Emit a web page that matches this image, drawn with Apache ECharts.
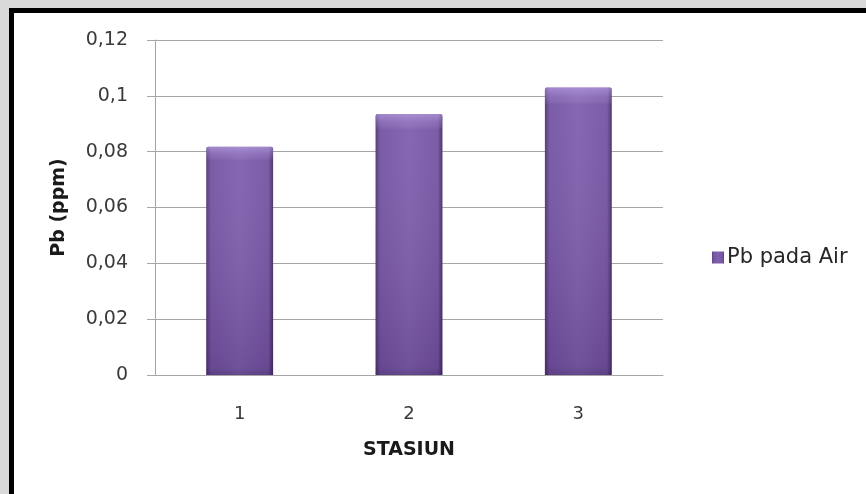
<!DOCTYPE html>
<html>
<head>
<meta charset="utf-8">
<script src="https://cdn.jsdelivr.net/npm/echarts@6/dist/echarts.min.js"></script>
<style>
html,body{margin:0;padding:0;background:#d9d9d9;}
#chart{width:866px;height:494px;}
</style>
</head>
<body>
<div id="chart"></div>
<script>
const categories = ['1', '2', '3'];
const seriesName = 'Pb pada Air';
const values = [0.0818, 0.0935, 0.103];
const yTicks = [0, 0.02, 0.04, 0.06, 0.08, 0.1, 0.12];
const xAxisTitle = 'STASIUN';
const yAxisTitle = 'Pb (ppm)';

const FONT = 'DejaVu Sans';
const chart = echarts.init(document.getElementById('chart'), null, {renderer: 'canvas'});

const barGradient = new echarts.graphic.LinearGradient(0, 0, 1, 0, [
  {offset: 0, color: '#4f3573'},
  {offset: 0.07, color: '#7453a2'},
  {offset: 0.5, color: '#7f5fae'},
  {offset: 0.93, color: '#7453a2'},
  {offset: 1, color: '#452e66'}
]);
const shadeGradient = new echarts.graphic.LinearGradient(0, 0, 0, 1, [
  {offset: 0, color: 'rgba(200,180,240,0.55)'},
  {offset: 0.035, color: 'rgba(200,180,240,0.25)'},
  {offset: 0.06, color: 'rgba(255,255,255,0.05)'},
  {offset: 0.97, color: 'rgba(20,0,40,0.14)'},
  {offset: 1, color: 'rgba(20,0,40,0.25)'}
]);

chart.setOption({
  backgroundColor: '#d9d9d9',
  animation: false,
  graphic: [{
    type: 'rect',
    z: -10,
    shape: {x: 11.5, y: 10.5, width: 900, height: 600},
    style: {fill: '#ffffff', stroke: '#000000', lineWidth: 5}
  }],
  grid: {left: 155, right: 203, top: 40, bottom: 119},
  legend: {
    left: 707, top: 242,
    itemWidth: 12, itemHeight: 12, itemGap: 10,
    icon: 'rect',
    textStyle: {fontFamily: FONT, fontSize: 21, color: '#262626', padding: [0, 0, 0, -2]},
    data: [seriesName]
  },
  xAxis: {
    type: 'category',
    data: categories,
    name: xAxisTitle,
    nameLocation: 'middle',
    nameGap: 66,
    nameTextStyle: {fontFamily: FONT, fontSize: 19, fontWeight: 'bold', color: '#1a1a1a'},
    axisLine: {lineStyle: {color: '#a6a6a6', width: 1}},
    axisTick: {show: false},
    axisLabel: {fontFamily: FONT, fontSize: 18, color: '#3a3a3a', margin: 30}
  },
  yAxis: {
    type: 'value',
    min: 0, max: 0.12, interval: 0.02,
    name: yAxisTitle,
    nameLocation: 'middle',
    nameGap: 86,
    nameTextStyle: {fontFamily: FONT, fontSize: 19, fontWeight: 'bold', color: '#1a1a1a'},
    axisLine: {show: true, lineStyle: {color: '#a6a6a6', width: 1}},
    axisTick: {show: true, inside: false, length: 8, lineStyle: {color: '#a6a6a6'}},
    splitLine: {lineStyle: {color: '#a6a6a6', width: 1}},
    axisLabel: {
      fontFamily: FONT, fontSize: 19, color: '#3a3a3a', margin: 27,
      formatter: function (v) {
        const t = yTicks.find(function (x) { return Math.abs(x - v) < 1e-9; });
        return String(+(t !== undefined ? t : v).toFixed(2)).replace('.', ',');
      }
    }
  },
  series: [{
    name: seriesName,
    type: 'bar',
    data: values,
    barWidth: '39.5%',
    itemStyle: {color: barGradient, borderRadius: [2, 2, 0, 0]}
  }, {
    name: 'shade',
    type: 'bar',
    data: values,
    barWidth: '39.5%',
    barGap: '-100%',
    silent: true,
    itemStyle: {color: shadeGradient, borderRadius: [2, 2, 0, 0]}
  }]
});
</script>
</body>
</html>
